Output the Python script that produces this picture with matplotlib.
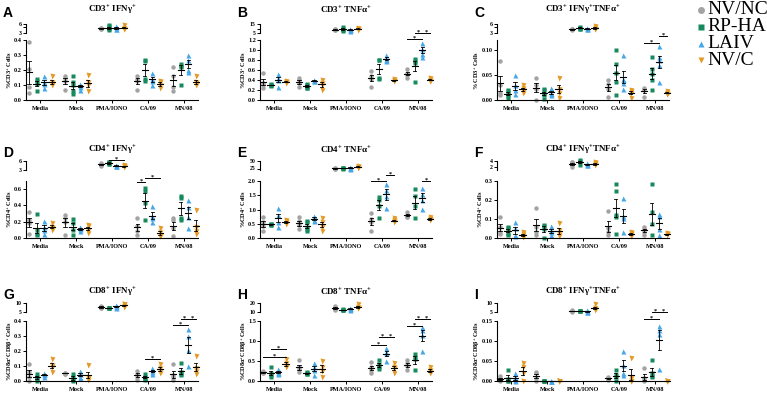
import matplotlib
matplotlib.use("Agg")
import matplotlib.pyplot as plt
from matplotlib.ticker import FormatStrFormatter
import numpy as np

plt.rcParams["font.family"] = ["Liberation Serif", "DejaVu Serif"]
plt.rcParams["font.weight"] = "bold"
plt.rcParams["mathtext.fontset"] = "custom"
plt.rcParams["mathtext.rm"] = "Liberation Serif:bold"
plt.rcParams["mathtext.bf"] = "Liberation Serif:bold"
plt.rcParams["mathtext.it"] = "Liberation Serif:bold:italic"
plt.rcParams["mathtext.default"] = "regular"

W, H = 767, 393

CATS = ["Media", "Mock", "PMA/IONO", "CA/09", "MN/08"]
GROUPS = ["NV/NC", "RP-HA", "LAIV", "NV/C"]
COLORS = ["#a3a3a3", "#168a5c", "#47a6e6", "#e39a26"]
MARKERS = ["o", "s", "^", "v"]
MSIZE = [3.2, 2.9, 3.6, 3.6]

# values per category (Media, Mock, PMA/IONO, CA/09, MN/08), each with 4 groups
A_VALS = [
    [[0.39, 0.21, 0.09, 0.05], [0.14, 0.13, 0.11, 0.06], [0.16, 0.12, 0.11, 0.08], [0.16, 0.12, 0.11, 0.10]],
    [[0.16, 0.15, 0.13, 0.07], [0.16, 0.12, 0.10, 0.06, 0.04], [0.11, 0.10, 0.09, 0.07], [0.17, 0.12, 0.10, 0.06]],
    [[4.6, 4.4, 4.8, 4.5], [4.2, 5.3, 4.6, 5.6, 4.0], [4.5, 5.3, 4.9, 4.2], [4.7, 4.4, 5.7, 4.5]],
    [[0.16, 0.14, 0.13, 0.07], [0.27, 0.26, 0.14, 0.13], [0.18, 0.14, 0.13, 0.10], [0.13, 0.12, 0.10, 0.08]],
    [[0.22, 0.16, 0.09, 0.06], [0.24, 0.23, 0.22, 0.10], [0.30, 0.27, 0.20, 0.19], [0.16, 0.12, 0.10, 0.11]],
]
B_VALS = [
    [[0.55, 0.35, 0.30, 0.25], [0.32, 0.30, 0.30, 0.28], [0.52, 0.45, 0.40, 0.27], [0.38, 0.37, 0.36, 0.35]],
    [[0.45, 0.40, 0.35, 0.27], [0.32, 0.30, 0.28, 0.25, 0.25], [0.40, 0.40, 0.38, 0.38], [0.40, 0.35, 0.30, 0.20]],
    [[9.0, 8.5, 9.5, 8.0], [12.0, 8.0, 10.0, 7.5], [9.0, 10.0, 8.5, 7.5], [11.0, 9.0, 8.5, 10.0]],
    [[0.58, 0.48, 0.42, 0.27], [0.81, 0.80, 0.45, 0.42], [0.90, 0.82, 0.80, 0.78], [0.42, 0.40, 0.38, 0.38]],
    [[0.62, 0.55, 0.50, 0.45], [0.82, 0.78, 0.75, 0.36], [1.15, 1.03, 0.93, 0.87], [0.45, 0.42, 0.38, 0.38]],
]
C_VALS = [
    [[0.078, 0.030, 0.015, 0.010], [0.020, 0.018, 0.012, 0.008, 0.005], [0.050, 0.030, 0.020, 0.013], [0.030, 0.025, 0.020, 0.018, 0.015]],
    [[0.045, 0.030, 0.022, 0.001], [0.022, 0.020, 0.013, 0.010, 0.002], [0.025, 0.015, 0.012, 0.010], [0.045, 0.022, 0.015, 0.005]],
    [[4.2, 4.5, 4.0, 4.3], [4.8, 5.1, 4.5, 4.4], [4.8, 4.4, 4.6, 4.2], [5.3, 4.6, 4.5, 4.4]],
    [[0.040, 0.033, 0.023, 0.007], [0.100, 0.073, 0.055, 0.037, 0.010], [0.090, 0.043, 0.040, 0.035, 0.023], [0.020, 0.018, 0.015, 0.005]],
    [[0.025, 0.022, 0.020, 0.007], [0.085, 0.063, 0.053, 0.041, 0.020], [0.108, 0.087, 0.080, 0.070, 0.037], [0.018, 0.015, 0.013, 0.012]],
]
D_VALS = [
    [[0.32, 0.22, 0.18, 0.05], [0.30, 0.10, 0.05, 0.04], [0.21, 0.14, 0.10, 0.05], [0.19, 0.14, 0.12, 0.10]],
    [[0.28, 0.25, 0.20, 0.04], [0.23, 0.18, 0.10, 0.04], [0.13, 0.12, 0.11, 0.08], [0.16, 0.15, 0.10, 0.06]],
    [[4.8, 5.2, 4.5, 5.0], [5.8, 5.5, 5.0, 4.9], [4.7, 4.2, 4.3, 4.5], [4.6, 4.3, 4.0, 4.2]],
    [[0.25, 0.15, 0.09, 0.04], [0.61, 0.58, 0.43, 0.22], [0.39, 0.27, 0.24, 0.20], [0.125, 0.07, 0.03, 0.02]],
    [[0.24, 0.22, 0.12, 0.02], [0.51, 0.49, 0.24, 0.22], [0.47, 0.38, 0.26, 0.12], [0.34, 0.13, 0.09, 0.05]],
]
E_VALS = [
    [[0.72, 0.55, 0.41, 0.26], [0.50, 0.48, 0.47, 0.46], [1.05, 0.80, 0.55, 0.40], [0.62, 0.60, 0.55, 0.50]],
    [[0.72, 0.60, 0.45, 0.30], [0.60, 0.55, 0.40, 0.30, 0.25], [0.78, 0.72, 0.62, 0.58], [0.70, 0.55, 0.40, 0.25]],
    [[27.0, 25.0, 26.0, 24.0], [26.0, 25.0, 27.0, 25.5], [28.0, 25.0, 26.0, 30.0], [35.0, 30.0, 28.0, 29.0]],
    [[0.86, 0.66, 0.57, 0.26], [1.43, 1.35, 1.14, 0.69], [1.90, 1.69, 1.46, 1.06], [0.70, 0.62, 0.58, 0.55]],
    [[0.90, 0.82, 0.75, 0.72], [1.71, 1.46, 1.12, 0.69], [1.75, 1.55, 1.35, 1.03], [0.75, 0.68, 0.65, 0.62]],
]
F_VALS = [
    [[0.11, 0.06, 0.03, 0.02], [0.06, 0.055, 0.04, 0.02, 0.015], [0.085, 0.054, 0.014, 0.01], [0.03, 0.02, 0.01, 0.005]],
    [[0.16, 0.06, 0.034, 0.017], [0.07, 0.064, 0.047, 0.0], [0.064, 0.042, 0.03, 0.014], [0.08, 0.042, 0.02, 0.008]],
    [[3.5, 3.8, 2.7, 2.0], [4.2, 4.0, 3.5, 2.6], [3.0, 2.8, 3.2, 2.7], [3.7, 3.2, 2.9, 2.5]],
    [[0.144, 0.054, 0.03, 0.017], [0.285, 0.246, 0.12, 0.11, 0.02], [0.21, 0.115, 0.105, 0.03], [0.03, 0.025, 0.02, 0.01]],
    [[0.058, 0.05, 0.034, 0.017], [0.285, 0.135, 0.076, 0.017], [0.127, 0.115, 0.05, 0.014], [0.025, 0.02, 0.02, 0.015]],
]
G_VALS = [
    [[0.113, 0.06, 0.027, 0.0], [0.05, 0.03, 0.016, 0.0], [0.054, 0.045, 0.04, 0.03], [0.15, 0.106, 0.095, 0.06]],
    [[0.055, 0.052, 0.05, 0.05], [0.05, 0.027, 0.005, 0.0], [0.07, 0.05, 0.03, 0.02], [0.106, 0.027, 0.022, 0.005]],
    [[8.5, 7.5, 7.0, 8.0], [7.5, 7.3, 7.5, 7.2], [9.0, 7.5, 7.8, 8.5], [9.5, 8.5, 8.0, 9.2]],
    [[0.068, 0.05, 0.03, 0.01], [0.05, 0.027, 0.016, 0.01], [0.09, 0.072, 0.06, 0.045], [0.113, 0.084, 0.068, 0.054]],
    [[0.113, 0.04, 0.027, 0.005], [0.118, 0.06, 0.05, 0.04], [0.35, 0.30, 0.21, 0.10], [0.17, 0.084, 0.068, 0.05]],
]
H_VALS = [
    [[0.25, 0.22, 0.20, 0.20], [0.34, 0.21, 0.15, 0.11], [0.29, 0.23, 0.21, 0.18], [0.54, 0.44, 0.375, 0.34]],
    [[0.52, 0.34, 0.30, 0.22], [0.22, 0.20, 0.18, 0.17], [0.46, 0.36, 0.275, 0.15], [0.51, 0.36, 0.26, 0.11]],
    [[17.0, 14.0, 12.0, 13.0], [13.0, 12.5, 12.0, 12.5], [14.0, 12.0, 13.0, 15.0], [19.0, 16.0, 14.0, 15.0]],
    [[0.48, 0.34, 0.275, 0.21], [0.52, 0.425, 0.36, 0.29], [0.82, 0.73, 0.69, 0.51], [0.46, 0.34, 0.32, 0.21]],
    [[0.52, 0.44, 0.375, 0.275], [0.675, 0.61, 0.54, 0.275], [1.36, 1.275, 1.15, 0.76], [0.34, 0.275, 0.23, 0.19]],
]
I_VALS = [
    [[0.0125, 0.007, 0.0025, 0.0005], [0.0275, 0.004, 0.001, 0.0], [0.019, 0.011, 0.002, 0.0], [0.045, 0.035, 0.02, 0.0]],
    [[0.023, 0.019, 0.007, 0.0], [0.0, 0.0, 0.0, 0.0], [0.0, 0.0, 0.0, 0.0], [0.0, 0.0, 0.0, 0.0]],
    [[6.0, 5.5, 5.0, 5.8], [5.5, 5.5, 5.4, 5.5], [6.0, 5.2, 5.5, 5.0], [9.5, 7.0, 6.5, 6.0]],
    [[0.01, 0.008, 0.005, 0.003], [0.0275, 0.015, 0.011, 0.001], [0.076, 0.04, 0.02, 0.015], [0.057, 0.007, 0.0, 0.0]],
    [[0.033, 0.007, 0.0025, 0.0], [0.0525, 0.019, 0.0125, 0.009], [0.138, 0.1275, 0.1175, 0.029], [0.0, 0.0, 0.0, 0.0]],
]

# panel settings: letter, title, y label, values, bottom ylim/ticks/format,
# top segment ylim/ticks/labels, brackets = (category, group a, group b, y, segment)
PANELS = [
    ("A", "CD3$^{+}$ IFNγ$^{+}$", "%CD3$^{+}$ Cells", A_VALS,
     (0, 0.4), [0, 0.1, 0.2, 0.3, 0.4], "%.1f", (3, 6), [3, 5, 6], ["3", "", "6"], []),
    ("B", "CD3$^{+}$ TNFα$^{+}$", "%CD3$^{+}$ Cells", B_VALS,
     (0, 1.2), [0, 0.2, 0.4, 0.6, 0.8, 1.0, 1.2], "%.1f", (5, 15), [5, 10, 15], ["5", "", "15"],
     [(4, 0, 2, 1.22, "b"), (4, 1, 2, 1.34, "b"), (4, 2, 3, 1.34, "b")]),
    ("C", "CD3$^{+}$ IFNγ$^{+}$TNFα$^{+}$", "% CD3$^{+}$ Cells", C_VALS,
     (0, 0.12), [0, 0.05, 0.10], "%.2f", (3, 6), [3, 5, 6], ["3", "", "6"],
     [(4, 0, 2, 0.114, "b"), (4, 2, 3, 0.128, "b")]),
    ("D", "CD4$^{+}$ IFNγ$^{+}$", "%CD4$^{+}$ Cells", D_VALS,
     (0, 0.7), [0, 0.2, 0.4, 0.6], "%.1f", (3, 6), [3, 6], ["3", "6"],
     [(2, 1, 3, 6.4, "t"), (3, 0, 1, 0.69, "b"), (3, 1, 3, 0.74, "b")]),
    ("E", "CD4$^{+}$ TNFα$^{+}$", "%CD4$^{+}$ Cells", E_VALS,
     (0, 2.0), [0, 0.5, 1.0, 1.5, 2.0], "%.1f", (20, 50), [25, 50], ["25", "50"],
     [(3, 0, 2, 2.0, "b"), (3, 2, 3, 2.2, "b"), (4, 2, 3, 2.0, "b")]),
    ("F", "CD4$^{+}$ IFNγ$^{+}$TNFα$^{+}$", "%CD4$^{+}$ Cells", F_VALS,
     (0, 0.3), [0, 0.1, 0.2, 0.3], "%.1f", (1, 4), [2, 4], ["2", "4"], []),
    ("G", "CD8$^{+}$ IFNγ$^{+}$", "%CD8α$^{+}$CD8β$^{+}$ Cells", G_VALS,
     (0, 0.4), [0, 0.1, 0.2, 0.3, 0.4], "%.1f", (5, 10), [5, 10], ["5", "10"],
     [(3, 1, 3, 0.145, "b"), (4, 0, 2, 0.373, "b"), (4, 1, 2, 0.416, "b"), (4, 2, 3, 0.416, "b")]),
    ("H", "CD8$^{+}$ TNFα$^{+}$", "%CD8α$^{+}$CD8β$^{+}$ Cells", H_VALS,
     (0, 1.5), [0, 0.5, 1.0, 1.5], "%.1f", (10, 20), [10, 20], ["10", "20"],
     [(0, 0, 3, 0.59, "b"), (0, 1, 3, 0.79, "b"), (3, 0, 2, 0.90, "b"), (3, 1, 2, 1.11, "b"),
      (3, 2, 3, 1.11, "b"), (4, 0, 2, 1.38, "b"), (4, 1, 2, 1.54, "b"), (4, 2, 3, 1.54, "b")]),
    ("I", "CD8$^{+}$ IFNγ$^{+}$TNFα$^{+}$", "%CD8α$^{+}$CD8β$^{+}$ Cells", I_VALS,
     (0, 0.15), [0, 0.05, 0.10, 0.15], "%.2f", (5, 10), [5, 10], ["5", "10"],
     [(4, 0, 2, 0.154, "b"), (4, 1, 2, 0.173, "b"), (4, 2, 3, 0.173, "b")]),
]

# layout in pixels
COL_LEFT = [26, 260, 497]
AX_W = 172
ROWS = [(24, 33, 40, 100), (161, 170, 181, 238), (303, 312, 321, 381)]
TITLE_Y = [10, 150, 292]
CAT_STEP = 4.8
XLIM = (-0.4, 22.5)

fig = plt.figure(figsize=(W / 100, H / 100), dpi=100)
ov = fig.add_axes([0, 0, 1, 1])
ov.set_xlim(0, W)
ov.set_ylim(H, 0)
ov.axis("off")


def px_box(l, t, w, h):
    return [l / W, 1 - (t + h) / H, w / W, h / H]


def style(ax):
    for s in ("top", "right"):
        ax.spines[s].set_visible(False)
    ax.spines["left"].set_linewidth(0.8)
    ax.spines["bottom"].set_linewidth(0.8)
    ax.tick_params(direction="out", length=2, width=0.7, labelsize=4.5, pad=1)
    ax.set_xlim(*XLIM)
    ax.patch.set_alpha(0)


def xpos(i, j):
    return i * CAT_STEP + j


for k, (letter, title, ylab, vals, ylim, yticks, fmt, tlim, tticks, tlabels, brackets) in enumerate(PANELS):
    col, row = k % 3, k // 3
    left = COL_LEFT[col]
    tt, tb, bt, bb = ROWS[row]
    top = fig.add_axes(px_box(left, tt, AX_W, tb - tt))
    bot = fig.add_axes(px_box(left, bt, AX_W, bb - bt))
    style(top)
    style(bot)
    top.spines["bottom"].set_visible(False)
    top.set_xticks([])
    top.set_ylim(*tlim)
    top.set_yticks(tticks)
    top.set_yticklabels(tlabels)
    top.tick_params(axis="y", labelsize=4.2)
    bot.set_ylim(*ylim)
    bot.set_yticks(yticks)
    bot.yaxis.set_major_formatter(FormatStrFormatter(fmt))
    bot.set_xticks([xpos(i, 1.5) for i in range(len(CATS))])
    bot.set_xticklabels(CATS)
    bot.tick_params(axis="x", length=2, pad=2)

    for i, cat in enumerate(vals):
        ax = top if i == 2 else bot
        for j, pts in enumerate(cat):
            pts = np.array(pts)
            x0 = xpos(i, j)
            ax.plot(np.full(len(pts), x0), pts, ls="none", marker=MARKERS[j],
                    ms=MSIZE[j], mfc=COLORS[j], mec="none", clip_on=False, zorder=2)
            m = pts.mean()
            se = pts.std(ddof=1) / np.sqrt(len(pts))
            ax.plot([x0 - 0.42, x0 + 0.42], [m, m], color="black", lw=0.8,
                    clip_on=False, zorder=3)
            ax.plot([x0, x0], [m - se, m + se], color="black", lw=0.6,
                    clip_on=False, zorder=3)
            for e in (m - se, m + se):
                ax.plot([x0 - 0.22, x0 + 0.22], [e, e], color="black", lw=0.6,
                        clip_on=False, zorder=3)

    for (i, a, b, y, seg) in brackets:
        ax = top if seg == "t" else bot
        x1, x2 = xpos(i, a), xpos(i, b)
        ax.plot([x1, x2], [y, y], color="black", lw=0.7, clip_on=False, zorder=4)
        ax.annotate("*", xy=((x1 + x2) / 2, y), xytext=(0, -1.2), textcoords="offset points",
                    ha="center", va="bottom", fontsize=4.5, annotation_clip=False)

    cx = left + AX_W / 2
    ov.text(cx, TITLE_Y[row], title, ha="center", va="center", fontsize=6.5)
    ov.text(COL_LEFT[col] - 23, TITLE_Y[row] + 3, letter, ha="left", va="center",
            fontsize=10, family="Liberation Sans", fontweight="bold")
    ylx = left - (20 if fmt == "%.2f" else 16)
    ov.text(ylx, (bt + bb) / 2, ylab, rotation=90, ha="center", va="center", fontsize=4.5)

# legend
for j, g in enumerate(GROUPS):
    y = 10 + j * 16.8
    ov.plot([701], [y], ls="none", marker=MARKERS[j], ms=5, mfc=COLORS[j], mec="none")
    ov.text(707, y, g, ha="left", va="center", fontsize=14, fontweight="normal")

fig.savefig("out.png", dpi=100)
